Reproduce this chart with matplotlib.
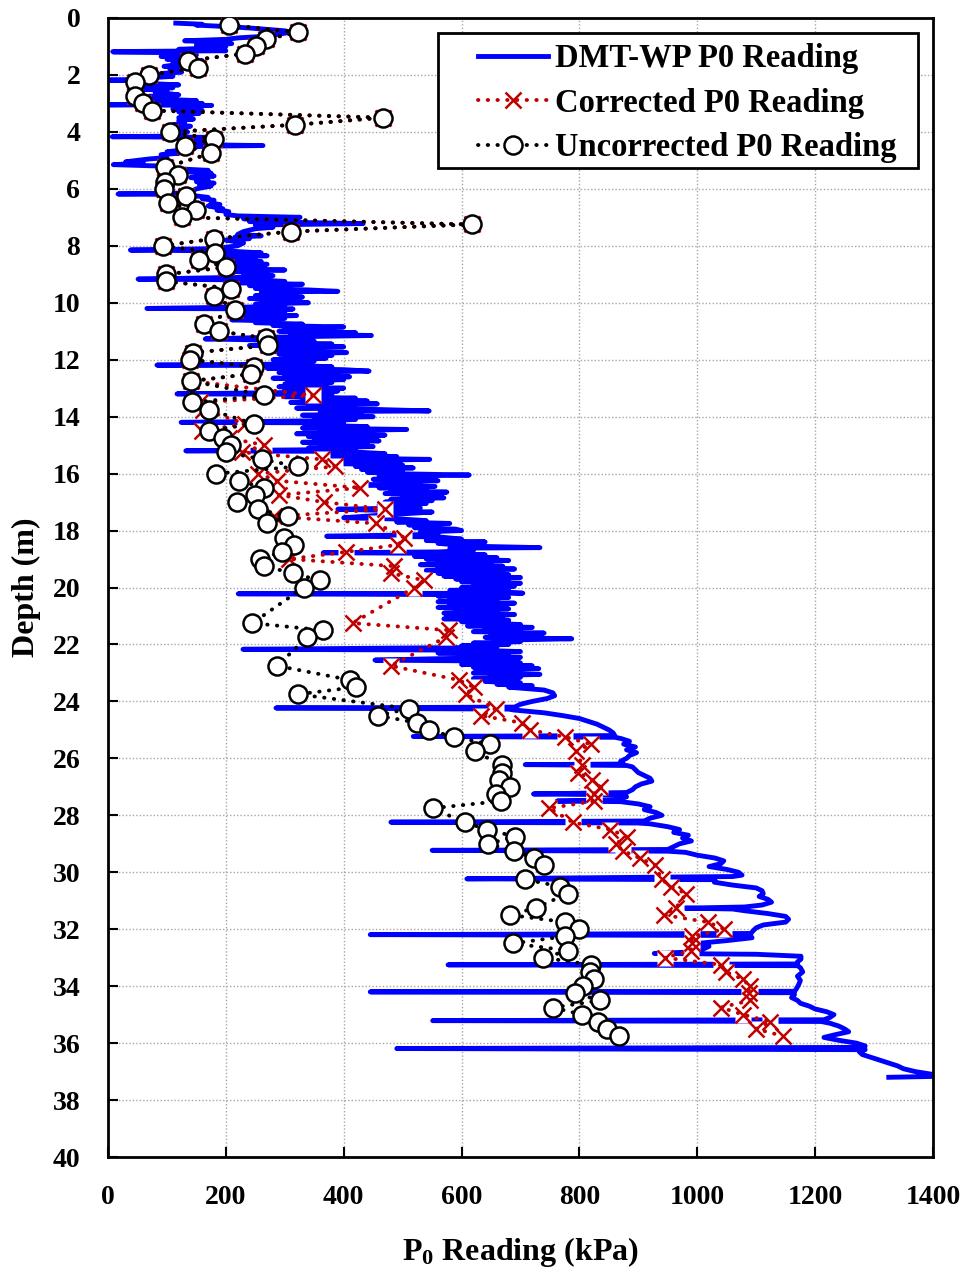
import numpy as np
import matplotlib.pyplot as plt
from matplotlib.patches import Rectangle

plt.rcParams['font.family'] = ['Liberation Serif', 'DejaVu Serif']
plt.rcParams['font.weight'] = 'bold'
plt.rcParams['axes.labelweight'] = 'bold'
plt.rcParams['mathtext.fontset'] = 'custom'
plt.rcParams['mathtext.rm'] = 'Liberation Serif:bold'
plt.rcParams['mathtext.it'] = 'Liberation Serif:bold'
plt.rcParams['mathtext.bf'] = 'Liberation Serif:bold'

# DMT-WP continuous P0 trace (depth m, P0 kPa)
blue_depth = [
    0.18, 0.22, 0.25, 0.30, 0.35, 0.40, 0.45, 0.50, 0.55, 0.60, 0.65, 0.70, 0.75, 0.80, 0.85, 0.90, 0.95, 1.00, 1.05, 1.10, 1.15, 1.18, 1.20, 1.22,
    1.30, 1.35, 1.40, 1.45, 1.50, 1.55, 1.60, 1.70, 1.75, 1.80, 1.90, 1.95, 2.00, 2.05, 2.10, 2.15, 2.18, 2.20,
    2.30, 2.35, 2.40, 2.45, 2.50, 2.55, 2.60, 2.70, 2.75, 2.80, 2.85, 2.90, 2.95, 3.00, 3.02, 3.05, 3.07, 3.10,
    3.15, 3.20, 3.25, 3.30, 3.35, 3.40, 3.45, 3.50, 3.55, 3.60, 3.70, 3.75, 3.80, 3.90, 4.00, 4.10, 4.15, 4.17, 4.19, 4.25, 4.30,
    4.40, 4.45, 4.48, 4.50, 4.55, 4.60, 4.70, 4.75, 4.80, 4.90, 4.95, 5.00, 5.05, 5.10, 5.15, 5.20, 5.30,
    5.35, 5.40, 5.45, 5.50, 5.55, 5.60, 5.70, 5.75, 5.80, 5.85, 5.90, 6.00, 6.10, 6.15, 6.18, 6.20,
    6.25, 6.30, 6.35, 6.40, 6.50, 6.55, 6.60, 6.70, 6.75, 6.80, 6.90, 6.95, 7.00, 7.05, 7.10, 7.15, 7.22, 7.27,
    7.35, 7.40, 7.45, 7.50, 7.60, 7.65, 7.70, 7.75, 7.80, 7.90, 8.00, 8.10, 8.15, 8.18,
    8.25, 8.30, 8.35, 8.40, 8.45, 8.50, 8.55, 8.60, 8.65, 8.70, 8.75, 8.80, 8.85, 8.90, 8.95, 9.00, 9.05, 9.10, 9.17, 9.20,
    9.25, 9.30, 9.35, 9.40, 9.45, 9.50, 9.55, 9.60, 9.62, 9.70, 9.75, 9.80, 9.85, 9.90, 9.95, 10.00, 10.05, 10.10, 10.15, 10.20, 10.22,
    10.30, 10.35, 10.40, 10.45, 10.50, 10.55, 10.60, 10.65, 10.70, 10.75, 10.80, 10.85, 10.90, 10.95, 11.00, 11.05, 11.10, 11.15, 11.20, 11.27, 11.30,
    11.35, 11.40, 11.45, 11.50, 11.55, 11.60, 11.65, 11.70, 11.75, 11.80, 11.85, 11.90, 11.95, 12.00, 12.05, 12.10, 12.15, 12.19, 12.21,
    12.25, 12.30, 12.35, 12.40, 12.45, 12.50, 12.55, 12.60, 12.65, 12.70, 12.75, 12.80, 12.85, 12.90, 12.95, 13.00, 13.05, 13.10, 13.15, 13.20, 13.22,
    13.30, 13.35, 13.40, 13.45, 13.50, 13.55, 13.60, 13.65, 13.70, 13.75, 13.80, 13.82, 13.90, 13.95, 14.00, 14.05, 14.10, 14.15, 14.20, 14.22,
    14.30, 14.35, 14.40, 14.45, 14.50, 14.55, 14.60, 14.65, 14.70, 14.75, 14.80, 14.85, 14.90, 14.95, 15.00, 15.05, 15.10, 15.15, 15.20, 15.22,
    15.30, 15.35, 15.40, 15.45, 15.50, 15.55, 15.60, 15.65, 15.70, 15.75, 15.80, 15.85, 15.90, 15.95, 16.00, 16.05, 16.10,
    16.15, 16.20, 16.25, 16.30, 16.35, 16.40, 16.45, 16.50, 16.55, 16.60, 16.65, 16.70, 16.75, 16.80, 16.85, 16.90, 16.95, 17.00,
    17.05, 17.10, 17.20, 17.25, 17.30, 17.35, 17.45, 17.55, 17.60, 17.65, 17.70, 17.75, 17.80, 17.85, 17.90, 17.95, 18.00, 18.05, 18.10, 18.15, 18.20, 18.22,
    18.30, 18.35, 18.40, 18.45, 18.55, 18.60, 18.62, 18.70, 18.75, 18.78, 18.80,
    18.85, 18.90, 18.95, 19.00, 19.05, 19.10, 19.15, 19.20, 19.25, 19.30, 19.35, 19.40, 19.45, 19.50, 19.55, 19.60, 19.65, 19.70, 19.75, 19.80,
    19.85, 19.90, 19.95, 20.00, 20.05, 20.10, 20.15, 20.20, 20.22, 20.25,
    20.30, 20.35, 20.40, 20.45, 20.50, 20.55, 20.60, 20.65, 20.70, 20.75, 20.80, 20.85, 20.90, 20.95, 21.00, 21.05, 21.10, 21.15, 21.20,
    21.25, 21.30, 21.35, 21.40, 21.45, 21.50, 21.55, 21.60, 21.65, 21.70, 21.75, 21.80, 21.85, 21.90, 21.95, 22.00, 22.05, 22.10, 22.17, 22.20,
    22.25, 22.30, 22.35, 22.40, 22.45, 22.50, 22.55, 22.58, 22.65, 22.70, 22.75, 22.80, 22.85, 22.90, 22.95, 23.00, 23.05, 23.10,
    23.15, 23.20, 23.25, 23.30, 23.35, 23.40, 23.45, 23.50, 23.60, 23.70, 23.80, 23.90, 24.00, 24.10, 24.20, 24.23, 24.27,
    24.30, 24.40, 24.50, 24.60, 24.70, 24.80, 24.90, 25.00, 25.10, 25.20, 25.23, 25.26,
    25.30, 25.40, 25.50, 25.60, 25.70, 25.80, 25.90, 26.00, 26.10, 26.20, 26.22, 26.25,
    26.30, 26.40, 26.50, 26.60, 26.70, 26.80, 26.90, 27.00, 27.10, 27.20, 27.25, 27.28,
    27.35, 27.45, 27.50, 27.52, 27.60, 27.70, 27.80, 27.90, 28.00, 28.10, 28.20, 28.24, 28.27,
    28.30, 28.40, 28.50, 28.60, 28.70, 28.80, 28.90, 29.00, 29.10, 29.20, 29.23, 29.26,
    29.30, 29.40, 29.50, 29.60, 29.70, 29.80, 29.90, 30.00, 30.10, 30.15, 30.23, 30.26,
    30.35, 30.45, 30.55, 30.65, 30.75, 30.85, 30.95, 31.05, 31.15, 31.22, 31.26, 31.29,
    31.35, 31.45, 31.55, 31.65, 31.75, 31.85, 31.95, 32.05, 32.15, 32.19, 32.22,
    32.30, 32.40, 32.50, 32.60, 32.70, 32.80, 32.85, 32.88, 32.95, 33.05, 33.15, 33.22, 33.25, 33.28,
    33.35, 33.50, 33.65, 33.80, 33.95, 34.10, 34.18, 34.20, 34.23,
    34.30, 34.40, 34.50, 34.60, 34.70, 34.80, 34.90, 35.00, 35.10, 35.18, 35.21, 35.24,
    35.30, 35.40, 35.50, 35.60, 35.70, 35.80, 35.90, 36.00, 36.10, 36.15, 36.19, 36.23,
    36.30, 36.40, 36.50, 36.60, 36.70, 36.80, 36.90, 37.00, 37.10, 37.17, 37.20,
]
blue_p0 = [
    115, 160, 150, 200, 240, 270, 300, 310, 295, 280, 260, 220, 200, 130, 190, 210, 150, 200, 180, 120, 200, 8, 10, 130,
    150, 90, 140, 100, 160, 110, 130, 95, 140, 105, 125, 90, 100, 110, 70, 60, 0, 40,
    70, 120, 55, 110, 60, 100, 80, 120, 70, 110, 80, 150, 100, 160, 120, 3, 176, 130,
    150, 110, 160, 120, 155, 125, 140, 120, 145, 120, 130, 110, 140, 120, 135, 120, 100, 7, 170, 130, 150,
    180, 150, 263, 170, 120, 140, 100, 120, 90, 100, 70, 50, 30, 60, 9, 90, 120,
    170, 130, 175, 150, 180, 140, 170, 150, 180, 155, 175, 150, 140, 120, 17, 130,
    150, 170, 160, 180, 175, 190, 170, 195, 185, 205, 200, 220, 326, 230, 260, 240, 433, 250,
    280, 250, 240, 230, 220, 260, 215, 240, 200, 230, 220, 180, 38, 200,
    260, 180, 270, 200, 250, 190, 260, 200, 270, 210, 250, 220, 300, 210, 270, 230, 280, 240, 51, 250,
    300, 220, 330, 240, 310, 250, 340, 390, 260, 320, 250, 330, 240, 300, 260, 340, 250, 300, 240, 66, 314,
    220, 300, 230, 320, 240, 300, 210, 290, 250, 330, 280, 400, 300, 380, 290, 420, 310, 447, 300, 165, 240,
    350, 260, 380, 240, 400, 280, 350, 270, 405, 290, 380, 300, 370, 280, 350, 300, 330, 83, 330,
    380, 270, 400, 443, 290, 390, 300, 410, 280, 400, 310, 380, 300, 370, 290, 400, 300, 390, 320, 117, 380,
    300, 420, 330, 440, 310, 457, 340, 410, 320, 460, 545, 360, 430, 330, 450, 350, 420, 340, 124, 400,
    350, 440, 330, 507, 360, 450, 320, 470, 340, 430, 350, 460, 330, 440, 360, 450, 340, 420, 132, 400,
    470, 360, 490, 380, 546, 400, 480, 390, 500, 420, 518, 430, 500, 440, 480, 613, 460,
    540, 450, 560, 470, 530, 440, 555, 460, 540, 480, 575, 470, 560, 500, 570, 480, 550, 470,
    540, 460, 530, 390, 480, 550, 470, 400, 500, 540, 490, 580, 510, 560, 520, 590, 600, 530, 560, 520, 371, 560,
    600, 540, 640, 560, 620, 733, 580, 620, 560, 365, 580,
    640, 520, 660, 540, 680, 560, 650, 530, 670, 560, 690, 540, 670, 560, 680, 570, 700, 590, 680, 600,
    700, 620, 690, 600, 680, 580, 660, 704, 221, 600,
    560, 680, 580, 660, 560, 690, 580, 670, 560, 680, 590, 660, 570, 690, 600, 670, 570, 680, 600,
    640, 700, 610, 720, 640, 700, 620, 740, 650, 720, 640, 787, 660, 700, 620, 680, 600, 660, 229, 620,
    700, 560, 680, 600, 700, 560, 453, 640, 700, 600, 720, 620, 731, 640, 700, 620, 733, 650,
    700, 620, 690, 640, 700, 660, 720, 680, 740, 755, 758, 745, 720, 700, 690, 285, 680,
    688, 740, 772, 800, 815, 830, 840, 850, 857, 860, 518, 860,
    870, 885, 875, 895, 880, 897, 885, 880, 870, 875, 708, 880,
    890, 895, 900, 910, 920, 923, 905, 895, 890, 880, 722, 870,
    880, 860, 762, 870, 900, 920, 910, 930, 940, 920, 910, 480, 900,
    920, 950, 970, 960, 985, 975, 990, 970, 960, 950, 550, 950,
    980, 1000, 1030, 1045, 1040, 1020, 1050, 1070, 1076, 1060, 609, 1030,
    1029, 1060, 1100, 1110, 1112, 1105, 1120, 1126, 1110, 1080, 979, 1060,
    1080, 1120, 1150, 1155, 1150, 1112, 1100, 1095, 1091, 445, 1090,
    1093, 1050, 1000, 1020, 1010, 990, 927, 1100, 1176, 1176, 1170, 1170, 577, 1170,
    1175, 1179, 1170, 1175, 1172, 1168, 1165, 445, 1164,
    1165, 1160, 1170, 1175, 1190, 1200, 1220, 1232, 1225, 1215, 551, 1210,
    1225, 1240, 1250, 1257, 1235, 1215, 1240, 1270, 1285, 1280, 490, 1285,
    1275, 1280, 1295, 1310, 1325, 1340, 1350, 1370, 1400, 1400, 1325,
]

# Discrete readings
test_depth = [0.25, 0.5, 0.75, 1.0, 1.25, 1.5, 1.75, 2.0, 2.25, 2.75, 3.0, 3.25, 3.5, 3.75, 4.0, 4.25, 4.5, 4.75,
              5.25, 5.5, 5.75, 6.0, 6.25, 6.5, 6.75, 7.0, 7.25, 7.5, 7.75, 8.0, 8.25, 8.5, 8.75, 9.0, 9.25, 9.5, 9.75,
              10.25, 10.75, 11.0, 11.25, 11.5, 11.75, 12.0, 12.25, 12.5, 12.75, 13.25, 13.5, 13.75, 14.25, 14.5, 14.75,
              15.0, 15.25, 15.5, 15.75, 16.0, 16.25, 16.5, 16.75, 17.0, 17.25, 17.5, 17.75, 18.25, 18.5, 18.75, 19.0,
              19.25, 19.5, 19.75, 20.0, 21.25, 21.5, 21.75, 22.75, 23.25, 23.5, 23.75, 24.25, 24.5, 24.75, 25.0, 25.25,
              25.5, 25.75, 26.25, 26.5, 26.75, 27.0, 27.25, 27.5, 27.75, 28.25, 28.5, 28.75, 29.0, 29.25, 29.5, 29.75,
              30.25, 30.5, 30.75, 31.25, 31.5, 31.75, 32.0, 32.25, 32.5, 32.75, 33.0, 33.25, 33.5, 33.75, 34.0, 34.25,
              34.5, 34.75, 35.0, 35.25, 35.5, 35.75]
uncorrected_p0 = [205, 322, 268, 251, 233, 135, 152, 70, 45, 45, 59, 74, 467, 318, 106, 179, 131, 175,
                  96, 118, 97, 95, 132, 102, 149, 126, 617, 311, 180, 93, 182, 155, 201, 99, 99, 209, 180,
                  216, 163, 188, 268, 272, 145, 139, 247, 243, 141, 265, 143, 171, 247, 171, 195,
                  208, 201, 262, 322, 183, 222, 264, 249, 219, 254, 305, 270, 298, 316, 295, 258,
                  265, 314, 359, 332, 245, 364, 338, 287, 411, 420, 322, 510, 458, 525, 544, 587,
                  648, 623, 668, 668, 664, 682, 658, 667, 551, 605, 644, 691, 645, 689, 723, 740,
                  708, 767, 780, 726, 682, 776, 799, 775, 687, 781, 739, 820, 818, 825, 806, 793,
                  835, 756, 804, 832, 846, 867]
corrected_p0 = [205, 322, 268, 251, 233, 135, 152, 70, 45, 45, 59, 74, 467, 318, 106, 179, 131, 175,
                96, 118, 97, 95, 132, 102, 149, 126, 617, 311, 180, 93, 182, 155, 201, 99, 99, 209, 180,
                216, 163, 188, 268, 272, 145, 139, 247, 243, 141, 348, 156, 162, 232, 159, 205,
                265, 228, 363, 385, 255, 287, 428, 290, 366, 470, 282, 455, 503, 492, 404, 307,
                486, 480, 537, 520, 415, 579, 573, 480, 595, 621, 607, 658, 633, 702, 716, 776,
                819, 795, 805, 798, 821, 835, 824, 825, 749, 789, 852, 880, 862, 874, 902, 928,
                940, 955, 981, 964, 943, 1018, 1046, 991, 991, 989, 945, 1041, 1048, 1077, 1089, 1087,
                1090, 1040, 1078, 1124, 1100, 1145]

labels = ['DMT-WP P0 Reading', 'Corrected P0 Reading', 'Uncorrected P0 Reading']

W, H = 968, 1267
fig = plt.figure(figsize=(W / 100, H / 100), dpi=100)
ax = fig.add_axes([0.1116, 0.0868, 0.8522, 0.899])

dots = (0, (0.1, 2.4))
blue, = ax.plot(blue_p0, blue_depth, color='#0000FF', lw=3.5, zorder=2)
ax.plot(corrected_p0, test_depth, ls='none', marker='s', ms=11, mfc='white', mec='none', zorder=3)
red, = ax.plot(corrected_p0, test_depth, ls=dots, dash_capstyle='round', color='#C00000', lw=2.8,
               marker='x', ms=11, mew=1.8, zorder=3)
black, = ax.plot(uncorrected_p0, test_depth, ls=dots, dash_capstyle='round', color='black', lw=2.8,
                 marker='o', ms=13, mfc='white', mec='black', mew=1.8, zorder=4)

ax.set_xlim(0, 1400)
ax.set_ylim(40, 0)
ax.set_xticks(np.arange(0, 1401, 200))
ax.set_yticks(np.arange(0, 41, 2))
ax.grid(True, color='#A6A6A6', ls=(0, (1, 1.5)), lw=1)
ax.set_axisbelow(True)
ax.tick_params(direction='in', length=7, width=1.5, labelsize=20, pad=20)
for s in ax.spines.values():
    s.set_linewidth(2)

ax.set_xlabel('P$_0$ Reading (kPa)', fontsize=23, labelpad=18)
ax.set_ylabel('Depth (m)', fontsize=23, labelpad=8)

# legend box drawn separately so its padding matches the original
ax.add_patch(Rectangle((438 / W, 1 - 168 / H), 480 / W, 135 / H, transform=fig.transFigure,
                       facecolor='white', edgecolor='black', lw=2, zorder=5))
leg = ax.legend([blue, red, black], labels, loc='upper left', bbox_to_anchor=(478 / W, 1 - 43 / H),
                bbox_transform=fig.transFigure, fontsize=23.5, frameon=False,
                handlelength=2.15, borderpad=0, labelspacing=0.42, handletextpad=0.22, borderaxespad=0)
leg.set_zorder(6)

fig.savefig('out.png', dpi=100)
